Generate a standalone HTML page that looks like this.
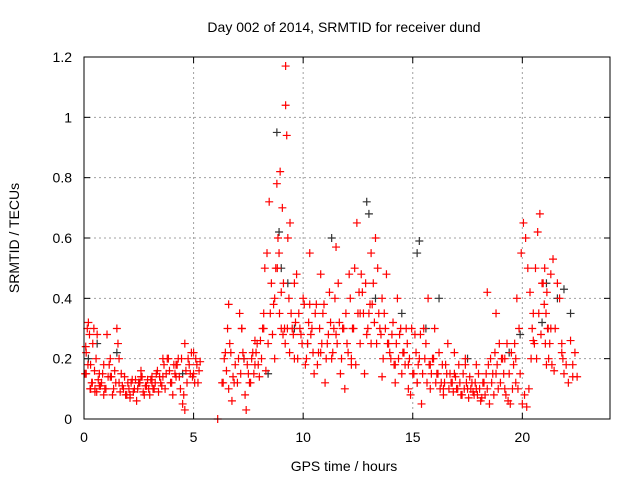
<!DOCTYPE html>
<html><head><meta charset="utf-8"><style>
body{margin:0;background:#fff;}
svg{display:block;font-family:"Liberation Sans",sans-serif;}
</style></head><body>
<svg id="chart" width="640" height="480" xmlns="http://www.w3.org/2000/svg">
<text x="344" y="32" font-size="14" text-anchor="middle">Day 002 of 2014, SRMTID for receiver dund</text>
<text x="344" y="471" font-size="14" text-anchor="middle">GPS time / hours</text>
<text transform="translate(19,238) rotate(-90)" font-size="14" text-anchor="middle">SRMTID / TECUs</text>
<g id="grid"></g><g id="ticks"></g><g id="marks"></g>
<rect x="84" y="57" width="526" height="362" fill="none" stroke="#000" stroke-width="1"/>
</svg>
<script>
const xTicks=[0,5,10,15,20];
const yTicks=[0,0.2,0.4,0.6,0.8,1,1.2];
const yTickLabels=["0","0.2","0.4","0.6","0.8","1","1.2"];
const blackT=[0.2,0.6,1.5,2.5,4.5,7.3,8.4,8.8,8.9,9.0,9.3,9.6,10.2,11.3,12.9,13.0,13.3,14.5,15.2,15.3,15.6,16.2,17.5,19.4,19.9,20.9,21.1,21.6,21.9,22.2];
const blackV=[0.2,0.25,0.22,0.12,0.15,0.2,0.15,0.95,0.62,0.5,0.45,0.3,0.25,0.6,0.72,0.68,0.4,0.35,0.55,0.59,0.3,0.4,0.2,0.22,0.28,0.32,0.45,0.4,0.43,0.35];
const redT=[0.05,0.1,0.15,0.2,0.25,0.3,0.35,0.4,0.45,0.5,0.55,0.6,0.7,0.8,0.9,1.0,1.1,1.2,1.3,1.4,1.5,1.55,1.6,1.7,1.8,1.9,2.0,2.1,2.2,2.3,2.4,2.5,2.6,2.7,2.8,2.9,3.0,3.1,3.2,3.3,3.4,3.5,3.6,3.7,3.8,3.9,4.0,4.1,4.2,4.3,4.4,4.5,4.55,4.6,4.7,4.8,4.9,5.0,5.1,5.2,5.3,
6.1,6.3,6.4,6.5,6.6,6.7,6.8,6.9,7.0,7.1,7.2,7.3,7.35,7.4,7.5,7.6,7.7,7.8,7.9,8.0,8.1,8.2,8.3,8.4,8.5,8.6,8.7,8.75,8.8,8.85,8.9,8.95,9.0,9.05,9.1,9.15,9.2,9.2,9.25,9.3,9.35,9.4,9.5,9.6,9.7,9.8,9.9,10.0,10.1,10.2,10.3,10.4,10.5,10.6,10.7,10.8,10.9,11.0,11.1,11.2,11.3,11.4,11.5,11.6,11.7,11.8,11.9,12.0,12.1,12.2,12.3,12.4,12.5,12.6,12.7,12.8,12.9,13.0,13.05,13.1,13.2,13.3,13.4,13.5,13.6,13.7,13.8,13.9,14.0,14.1,14.2,14.3,14.4,14.5,14.6,14.7,14.8,14.9,15.0,15.1,15.2,15.3,15.4,15.5,15.6,15.7,15.8,15.9,16.0,16.1,16.2,16.3,16.4,16.5,16.6,16.7,16.8,16.9,17.0,17.1,17.2,17.3,17.4,17.5,17.6,17.7,17.8,17.9,18.0,18.1,18.2,18.3,18.4,18.5,18.6,18.7,18.8,18.9,19.0,19.1,19.2,19.3,19.4,19.5,19.6,19.7,19.8,19.9,20.0,20.1,20.2,20.3,20.4,20.5,20.6,20.7,20.8,20.9,21.0,21.05,21.1,21.15,21.2,21.3,21.4,21.5,21.6,21.7,21.8,21.85,21.9,22.0,22.1,22.2,22.3,22.4,22.5,
0.1,0.3,0.5,0.7,0.9,1.2,1.6,2.1,2.6,3.1,3.6,4.2,4.6,5.0,6.6,7.2,7.8,8.2,8.7,9.0,9.6,10.3,10.8,11.5,12.2,12.6,13.1,13.6,14.2,14.8,15.2,15.8,16.4,16.9,17.4,17.9,18.4,18.8,19.2,19.7,20.5,21.3,21.8,22.3,
0.08,0.18,0.28,0.38,0.48,0.58,0.65,0.75,0.85,0.95,1.05,1.15,1.25,1.35,1.45,1.65,1.75,1.85,1.95,2.05,2.15,2.25,2.35,2.45,2.55,2.65,2.75,2.85,2.95,3.05,3.15,3.25,3.35,3.45,3.55,3.65,3.75,3.85,3.95,4.05,4.15,4.25,4.35,4.45,4.65,4.75,4.85,4.95,5.05,5.15,5.25,
6.35,6.45,6.55,6.65,6.75,6.85,7.05,7.15,7.25,7.45,7.55,7.65,7.75,7.85,7.95,8.05,8.15,8.25,8.35,8.45,8.55,8.65,8.82,8.92,9.08,9.18,9.28,9.38,9.45,9.55,9.65,9.75,9.85,9.95,10.05,10.15,10.25,10.35,10.45,10.55,10.65,10.75,10.85,10.95,11.05,11.15,11.25,11.35,11.45,11.55,11.65,11.75,11.85,11.95,12.05,12.15,12.25,12.35,12.45,12.55,12.65,12.75,12.85,12.95,13.15,13.25,13.35,13.45,13.55,13.65,13.75,13.85,13.95,14.05,14.15,14.25,14.35,14.45,14.55,14.65,14.75,14.85,14.95,15.05,15.15,15.25,15.35,15.45,15.55,15.65,15.75,15.85,15.95,16.05,16.15,16.25,16.35,16.45,16.55,16.65,16.75,16.85,16.95,17.05,17.15,17.25,17.35,17.45,17.55,17.65,17.75,17.85,17.95,18.05,18.15,18.25,18.35,18.45,18.55,18.65,18.75,18.85,18.95,19.05,19.15,19.25,19.35,19.45,19.55,19.65,19.75,19.85,19.95,20.05,20.15,20.25,20.35,20.45,20.55,20.65,20.75,20.85,20.95,21.02,21.08,21.12,21.18,21.25,21.35,21.45,21.55,21.65,21.75,21.82,21.88,21.95,22.05,22.15,22.25,22.35,22.45];
const redV=[0.15,0.22,0.3,0.32,0.28,0.18,0.12,0.25,0.3,0.1,0.2,0.28,0.15,0.12,0.18,0.1,0.14,0.2,0.08,0.16,0.3,0.25,0.12,0.15,0.1,0.08,0.12,0.07,0.13,0.1,0.06,0.12,0.14,0.09,0.11,0.13,0.08,0.12,0.1,0.15,0.09,0.12,0.14,0.1,0.2,0.16,0.12,0.18,0.14,0.2,0.1,0.05,0.08,0.03,0.12,0.18,0.22,0.15,0.2,0.12,0.19,
0.0,0.12,0.2,0.16,0.1,0.22,0.14,0.18,0.12,0.35,0.3,0.2,0.08,0.03,0.15,0.12,0.22,0.18,0.25,0.14,0.2,0.3,0.16,0.25,0.35,0.28,0.4,0.5,0.78,0.6,0.55,0.82,0.42,0.7,0.45,0.3,1.04,1.17,0.94,0.6,0.4,0.65,0.3,0.2,0.48,0.35,0.28,0.4,0.18,0.25,0.55,0.3,0.15,0.38,0.22,0.48,0.35,0.12,0.25,0.42,0.2,0.3,0.57,0.45,0.15,0.3,0.1,0.25,0.48,0.2,0.3,0.18,0.35,0.25,0.42,0.15,0.28,0.35,0.38,0.55,0.45,0.6,0.5,0.3,0.4,0.35,0.48,0.25,0.2,0.32,0.18,0.4,0.28,0.15,0.22,0.3,0.18,0.08,0.15,0.28,0.12,0.2,0.05,0.3,0.25,0.4,0.18,0.2,0.3,0.15,0.22,0.12,0.1,0.18,0.25,0.15,0.12,0.22,0.1,0.18,0.08,0.15,0.2,0.1,0.14,0.12,0.08,0.1,0.15,0.06,0.12,0.08,0.1,0.05,0.12,0.08,0.15,0.1,0.12,0.2,0.1,0.25,0.15,0.22,0.18,0.12,0.1,0.15,0.05,0.08,0.04,0.1,0.2,0.35,0.5,0.62,0.68,0.45,0.38,0.25,0.18,0.3,0.2,0.48,0.53,0.3,0.45,0.4,0.25,0.2,0.15,0.18,
0.12,0.26,0.18,0.22,0.14,0.15,0.1,0.09,0.11,0.08,0.14,0.2,0.08,0.16,0.14,0.2,0.18,0.25,0.22,0.38,0.3,0.26,0.35,0.2,0.3,0.45,0.38,0.22,0.28,0.18,0.35,0.25,0.14,0.12,0.1,0.12,0.1,0.08,0.15,0.18,0.18,0.42,0.35,0.2,
0.2,0.26,0.3,0.22,0.14,0.24,0.18,0.1,0.12,0.16,0.09,0.13,0.11,0.15,0.1,0.28,0.18,0.14,0.1,0.12,0.09,0.11,0.14,0.08,0.1,0.12,0.09,0.13,0.1,0.12,0.14,0.08,0.11,0.1,0.13,0.1,0.12,0.16,0.14,0.11,0.18,0.15,0.2,0.12,0.08,0.15,0.18,0.14,0.2,0.16,0.2,
0.15,0.14,0.12,0.18,0.16,0.12,0.22,0.3,0.25,0.06,0.12,0.2,0.15,0.22,0.18,0.12,0.2,0.15,0.22,0.18,0.26,0.3,0.5,0.55,0.72,0.45,0.38,0.5,0.35,0.28,0.25,0.3,0.22,0.35,0.28,0.32,0.2,0.3,0.25,0.38,0.2,0.32,0.28,0.22,0.35,0.18,0.3,0.25,0.38,0.2,0.28,0.32,0.22,0.4,0.25,0.32,0.2,0.3,0.35,0.22,0.4,0.3,0.5,0.65,0.42,0.48,0.35,0.45,0.3,0.38,0.32,0.25,0.35,0.28,0.2,0.3,0.25,0.22,0.28,0.18,0.25,0.2,0.3,0.22,0.18,0.25,0.2,0.3,0.15,0.22,0.18,0.28,0.15,0.2,0.12,0.18,0.15,0.2,0.12,0.15,0.1,0.18,0.12,0.15,0.1,0.12,0.09,0.14,0.1,0.12,0.08,0.1,0.12,0.07,0.1,0.09,0.12,0.08,0.1,0.07,0.12,0.15,0.18,0.2,0.15,0.22,0.18,0.25,0.2,0.15,0.08,0.06,0.05,0.1,0.25,0.4,0.3,0.55,0.65,0.6,0.5,0.42,0.3,0.25,0.2,0.35,0.28,0.45,0.5,0.35,0.42,0.3,0.25,0.18,0.16];
const X0=84,X1=610,Y0=419,Y1=57;
function xs(v){return X0+(v/24)*(X1-X0);}
function ys(v){return Y0-(v/1.2)*(Y0-Y1);}
const NS="http://www.w3.org/2000/svg";
const grid=document.getElementById('grid'),ticks=document.getElementById('ticks'),marks=document.getElementById('marks');
function mk(tag,attrs,parent){const e=document.createElementNS(NS,tag);for(const k in attrs)e.setAttribute(k,attrs[k]);parent.appendChild(e);return e;}
xTicks.forEach(t=>{const x=xs(t);
 if(t>0){const g=mk('line',{x1:x,x2:x,y1:Y1,y2:Y0,stroke:'#a0a0a0','stroke-dasharray':'2,3'},grid);
 
 }
 mk('line',{x1:x,x2:x,y1:Y0,y2:Y0-6,stroke:'#000'},ticks);mk('line',{x1:x,x2:x,y1:Y1,y2:Y1+6,stroke:'#000'},ticks);
 const l=mk('text',{x:x,y:Y0+23,'font-size':14,'text-anchor':'middle'},ticks);l.textContent=t;
 
 });
yTicks.forEach((t,i)=>{const y=ys(t);
 if(t>0&&t<1.2){const g=mk('line',{x1:X0,x2:X1,y1:y,y2:y,stroke:'#a0a0a0','stroke-dasharray':'2,3'},grid);
 
 }
 mk('line',{x1:X0,x2:X0+6,y1:y,y2:y,stroke:'#000'},ticks);mk('line',{x1:X1,x2:X1-6,y1:y,y2:y,stroke:'#000'},ticks);
 const l=mk('text',{x:X0-12,y:y+5,'font-size':14,'text-anchor':'end'},ticks);l.textContent=yTickLabels[i];
 
 });
function plus(t,v,c,name){const x=xs(t),y=ys(v);
 const p=mk('path',{d:`M${x-4},${y}H${x+4}M${x},${y-4}V${y+4}`,stroke:c,'stroke-width':1.2,fill:'none'},marks);
 
 }
blackT.forEach((t,i)=>plus(t,blackV[i],'#333','black-series-point'));
redT.forEach((t,i)=>plus(t,redV[i],'#f00','red-series-point'));
</script>
</body></html>
